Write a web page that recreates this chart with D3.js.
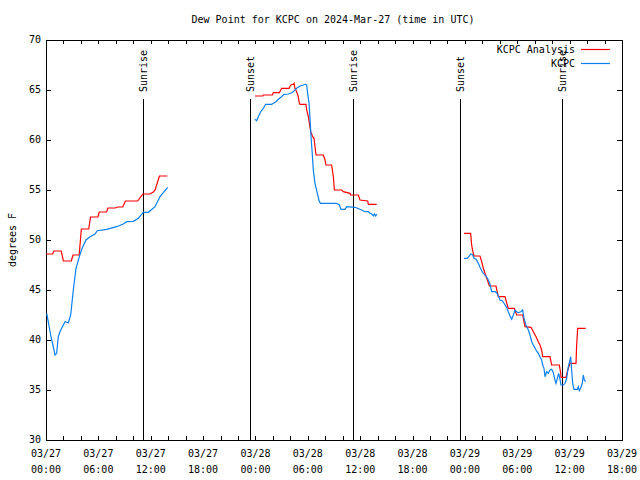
<!DOCTYPE html>
<html><head><meta charset="utf-8">
<script src="https://cdn.jsdelivr.net/npm/d3@7"></script>
<style>
body{margin:0;background:#fff;}
text{font-family:"DejaVu Sans Mono",monospace;font-size:10px;fill:#000;}
</style></head>
<body><svg id="c" width="640" height="480"></svg>
<script>
// hours since 2024-03-27 00:00 UTC, dew point (°F)
const analysis1 = [[0.0,48.6],[0.75,48.6],[0.92,48.9],[1.75,48.9],[1.99,47.9],[2.9,47.9],[3.1,48.5],[3.8,48.5],[4.05,51.1],[4.9,51.1],[5.1,52.3],[5.95,52.3],[6.1,52.8],[6.95,52.8],[7.1,53.2],[7.95,53.2],[8.2,53.3],[8.8,53.3],[9.1,53.9],[10.5,53.9],[11.1,54.6],[11.9,54.6],[12.3,54.8],[12.5,55.0],[13.0,56.4],[13.9,56.4]];
const analysis2 = [[23.95,64.4],[24.83,64.4],[24.9,64.5],[25.94,64.5],[26.05,64.73],[26.74,64.73],[27.0,65.17],[27.85,65.17],[28.04,65.5],[28.34,65.57],[28.42,65.67],[28.53,65.17],[28.72,64.83],[28.91,64.33],[29.03,63.67],[29.11,63.57],[29.79,63.57],[29.87,63.0],[30.06,62.33],[30.18,61.67],[30.33,60.83],[30.56,60.33],[30.71,60.17],[30.82,59.33],[30.94,58.5],[31.78,58.5],[31.97,58.0],[32.08,57.5],[32.73,57.5],[32.93,56.33],[33.04,55.0],[33.88,55.0],[34.07,54.83],[34.83,54.67],[34.91,54.5],[35.79,54.5],[35.98,54.0],[36.86,53.9],[36.94,53.57],[37.89,53.57]];
const analysis3 = [[47.89,50.67],[48.66,50.67],[48.77,49.5],[48.96,48.67],[49.04,48.4],[49.73,48.4],[49.92,47.83],[50.11,47.17],[50.30,46.67],[50.57,46.0],[50.80,45.4],[51.56,45.4],[51.83,44.33],[52.59,44.33],[52.86,43.5],[52.97,43.17],[53.66,43.17],[53.93,42.5],[54.62,42.5],[54.88,41.33],[55.57,41.27],[55.84,40.83],[56.15,40.33],[56.41,39.83],[56.60,39.5],[56.79,39.0],[56.91,38.33],[57.75,38.33],[57.94,37.5],[58.82,37.5],[58.97,36.73],[59.01,36.27],[59.58,36.27],[59.73,36.83],[60.04,37.67],[60.73,37.67],[60.80,39.4],[60.92,41.17],[61.84,41.17]];
const obs1 = [[0.08,42.67],[0.65,40.0],[0.92,39.0],[1.03,38.5],[1.22,38.67],[1.41,40.33],[1.6,40.83],[1.79,41.17],[2.18,41.83],[2.56,41.73],[2.83,42.5],[3.13,45.0],[3.44,47.17],[3.82,48.33],[4.09,49.07],[4.58,50.0],[5.04,50.33],[5.61,50.6],[5.88,50.93],[6.95,51.07],[8.1,51.33],[8.86,51.6],[9.24,51.83],[10.0,51.87],[10.58,52.17],[11.15,52.77],[11.73,52.77],[12.49,53.33],[13.06,54.33],[13.94,55.27]];
const obs2 = [[23.95,62.07],[24.14,61.93],[24.33,62.33],[24.60,62.83],[24.90,63.17],[25.17,63.57],[25.86,63.57],[26.05,63.67],[26.36,63.83],[26.62,64.07],[27.00,64.33],[27.27,64.57],[27.77,64.6],[28.15,64.73],[28.42,64.9],[28.72,65.17],[29.11,65.4],[29.49,65.5],[29.75,65.57],[29.87,65.5],[29.98,64.67],[30.14,63.67],[30.25,62.17],[30.37,60.33],[30.48,59.0],[30.63,57.0],[30.82,55.67],[31.09,54.67],[31.32,53.83],[31.47,53.67],[32.16,53.67],[33.31,53.67],[33.61,53.5],[33.80,53.07],[34.26,53.07],[34.45,53.33],[35.41,53.27],[36.17,53.0],[36.55,52.83],[36.94,52.83],[37.13,52.67],[37.32,52.6],[37.51,52.4],[37.62,52.6],[37.78,52.4],[37.89,52.6]];
const obs3 = [[47.89,48.17],[48.28,48.17],[48.51,48.4],[48.66,48.6],[48.89,48.5],[49.04,48.17],[49.27,48.07],[49.54,47.67],[49.73,47.27],[49.92,46.93],[50.11,46.67],[50.42,46.4],[50.68,46.0],[50.87,45.6],[51.06,44.83],[51.45,44.83],[51.64,44.73],[51.83,44.4],[52.02,44.0],[52.29,43.93],[52.48,43.67],[52.78,43.27],[52.97,42.83],[53.17,42.4],[53.36,42.07],[53.55,42.5],[53.74,43.0],[53.93,42.83],[54.12,42.73],[54.39,42.83],[54.62,43.0],[54.77,42.17],[55.0,41.5],[55.27,41.0],[55.46,40.5],[55.65,39.83],[55.84,39.5],[56.15,39.0],[56.41,38.67],[56.60,38.33],[56.79,38.0],[56.91,37.5],[57.06,37.17],[57.18,36.33],[57.37,36.83],[57.56,36.67],[57.75,37.0],[57.94,37.07],[58.13,36.73],[58.32,36.0],[58.44,35.67],[58.59,36.17],[58.74,36.67],[58.90,36.07],[59.01,35.5],[59.28,35.5],[59.47,35.67],[59.66,36.17],[59.85,37.33],[60.04,38.0],[60.12,38.33],[60.23,37.0],[60.35,35.67],[60.50,35.07],[60.88,35.07],[60.99,35.33],[61.11,34.93],[61.26,35.17],[61.45,35.67],[61.57,36.5],[61.68,36.0],[61.84,35.83]];
const sunEvents = [[11.15,"Sunrise"],[23.38,"Sunset"],[35.12,"Sunrise"],[47.42,"Sunset"],[59.08,"Sunrise"]];
const yTicks = [30,35,40,45,50,55,60,65,70];
const seriesNames = ["KCPC Analysis","KCPC"];
const seriesColors = ["#ff0000","#0a80f0"];
const title = "Dew Point for KCPC on 2024-Mar-27 (time in UTC)";
const yLabel = "degrees F";

const t0 = Date.UTC(2024,2,27,0,0,0);
const toDate = h => new Date(t0 + h*3600000);
const L=46,R=622,T=40,B=440;
const x = d3.scaleUtc().domain([toDate(0),toDate(66)]).range([L,R]);
const y = d3.scaleLinear().domain([30,70]).range([B,T]);
const svg = d3.select("#c");

svg.append("text").attr("x",333).attr("y",20).attr("text-anchor","middle").attr("dominant-baseline","middle").text(title);
svg.append("text").attr("transform","translate(13,240) rotate(-90)").attr("text-anchor","middle").attr("dominant-baseline","middle").text(yLabel);

// frame
svg.append("rect").attr("x",L+0.5).attr("y",T+0.5).attr("width",R-L).attr("height",B-T).attr("fill","none").attr("stroke","#000").attr("stroke-width",1);

// x ticks every 2h, top & bottom
const xt = d3.utcHour.every(2).range(toDate(0),toDate(66.01));
const g = svg.append("g").attr("shape-rendering","crispEdges");
xt.forEach(d=>{
  const px = Math.round(x(d))+0.5;
  g.append("line").attr("x1",px).attr("x2",px).attr("y1",B).attr("y2",B-4).attr("stroke","#000");
  g.append("line").attr("x1",px).attr("x2",px).attr("y1",T).attr("y2",T+4).attr("stroke","#000");
});
const xl = d3.utcHour.every(6).range(toDate(0),toDate(66.01));
xl.forEach(d=>{
  svg.append("text").attr("x",x(d)).attr("y",454).attr("text-anchor","middle").attr("dominant-baseline","middle").text(d3.utcFormat("%m/%d")(d));
  svg.append("text").attr("x",x(d)).attr("y",470).attr("text-anchor","middle").attr("dominant-baseline","middle").text(d3.utcFormat("%H:%M")(d));
});
yTicks.forEach(v=>{
  const py = Math.round(y(v))+0.5;
  g.append("line").attr("x1",L).attr("x2",L+5).attr("y1",py).attr("y2",py).attr("stroke","#000");
  g.append("line").attr("x1",R).attr("x2",R-5).attr("y1",py).attr("y2",py).attr("stroke","#000");
  svg.append("text").attr("x",41).attr("y",y(v)).attr("text-anchor","end").attr("dominant-baseline","middle").text(v);
});

// sun events
sunEvents.forEach(([h,lab])=>{
  const px = Math.round(x(toDate(h)))+0.5;
  g.append("line").attr("x1",px).attr("x2",px).attr("y1",99).attr("y2",B).attr("stroke","#000");
  svg.append("text").attr("transform",`translate(${px+3.5},92) rotate(-90)`).attr("text-anchor","start").text(lab);
});

const line = d3.line().x(d=>x(toDate(d[0]))).y(d=>y(d[1]));
[analysis1,analysis2,analysis3].forEach(s=>svg.append("path").attr("d",line(s)).attr("fill","none").attr("stroke",seriesColors[0]).attr("stroke-width",1.2));
[obs1,obs2,obs3].forEach(s=>svg.append("path").attr("d",line(s)).attr("fill","none").attr("stroke",seriesColors[1]).attr("stroke-width",1.2));

// legend
seriesNames.forEach((n,i)=>{
  const ly = 49.5 + i*14;
  svg.append("text").attr("x",575).attr("y",ly).attr("text-anchor","end").attr("dominant-baseline","middle").text(n);
  svg.append("line").attr("x1",581).attr("x2",610).attr("y1",ly).attr("y2",ly).attr("stroke",seriesColors[i]).attr("stroke-width",1.2);
});
</script></body></html>
